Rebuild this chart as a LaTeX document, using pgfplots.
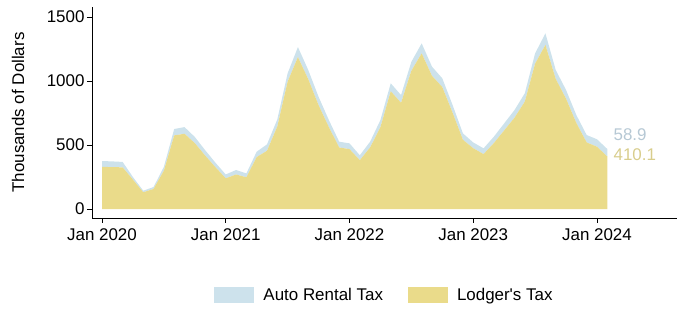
\documentclass[border=0pt]{standalone}
\usepackage{fontspec}
\setmainfont{Liberation Sans}[Ligatures=TeXOff]
\usepackage{pgfplots}
\usepackage{pgfplotstable}
\pgfplotsset{compat=1.18}
\definecolor{lodger}{RGB}{234,219,138}
\definecolor{autorent}{RGB}{205,226,236}
\definecolor{autolbl}{RGB}{182,200,212}
\definecolor{lodgerlbl}{RGB}{216,205,140}
\pgfplotstableread{
m lodger auto
0 330 45
1 327 45
2 326 42
3 230 20
4 131 12
5 157 15
6 300 30
7 575 50
8 588 52
9 515 48
10 418 42
11 327 35
12 240 30
13 270 35
14 248 30
15 406 42
16 455 50
17 645 55
18 995 65
19 1187 78
20 1014 72
21 812 65
22 640 55
23 481 45
24 468 45
25 382 38
26 481 45
27 640 55
28 920 62
29 830 60
30 1080 70
31 1216 78
32 1040 72
33 953 68
34 752 60
35 541 50
36 475 45
37 429 45
38 515 50
39 614 55
40 713 60
41 839 65
42 1136 80
43 1282 90
44 1016 70
45 862 68
46 672 62
47 520 58
48 487 58
49 410.1 58.9
}\datatable
\begin{document}
\begin{tikzpicture}[font=\fontsize{17}{20}\selectfont]
\useasboundingbox (0,0) rectangle (677bp,310bp);
\begin{axis}[
  at={(92bp,92bp)}, anchor=south west,
  scale only axis, width=585bp, height=211bp,
  xmin=-0.97, xmax=55.76, ymin=-70, ymax=1578,
  axis lines=left, axis line style={-, line width=0.8pt},
  tick align=outside, major tick length=5bp, tick style={line width=0.8pt, black},
  xtick={0,12,24,36,48},
  xticklabels={Jan 2020,Jan 2021,Jan 2022,Jan 2023,Jan 2024},
  xticklabel style={yshift=-2bp},
  ytick={0,500,1000,1500},
  /pgf/number format/assume math mode=true,
  scaled y ticks=false,
  yticklabel style={/pgf/number format/1000 sep={}, xshift=1bp},
  ylabel={Thousands of Dollars},
  ylabel style={at={(axis description cs:-0.1265,0.5)}, anchor=center},
  legend style={at={(0.5,-0.365)}, anchor=center, draw=none, legend columns=2,
    /tikz/every even column/.append style={column sep=23bp}},
  legend image code/.code={\fill[#1] (0bp,-8bp) rectangle (40bp,8bp); \path (47bp,0bp);},
  reverse legend,
  stack plots=y, clip=false,
]
\addplot[fill=lodger, draw=none] table[x=m,y=lodger]{\datatable} \closedcycle;
\addlegendentry{Lodger's Tax}
\addplot[fill=autorent, draw=none] table[x=m,y=auto]{\datatable} \closedcycle;
\addlegendentry{Auto Rental Tax}
\node[anchor=west, text=autolbl, inner sep=1bp] at (axis cs:49.5,578) {58.9};
\node[anchor=west, text=lodgerlbl, inner sep=1bp] at (axis cs:49.5,422) {410.1};
\end{axis}
\end{tikzpicture}
\end{document}
